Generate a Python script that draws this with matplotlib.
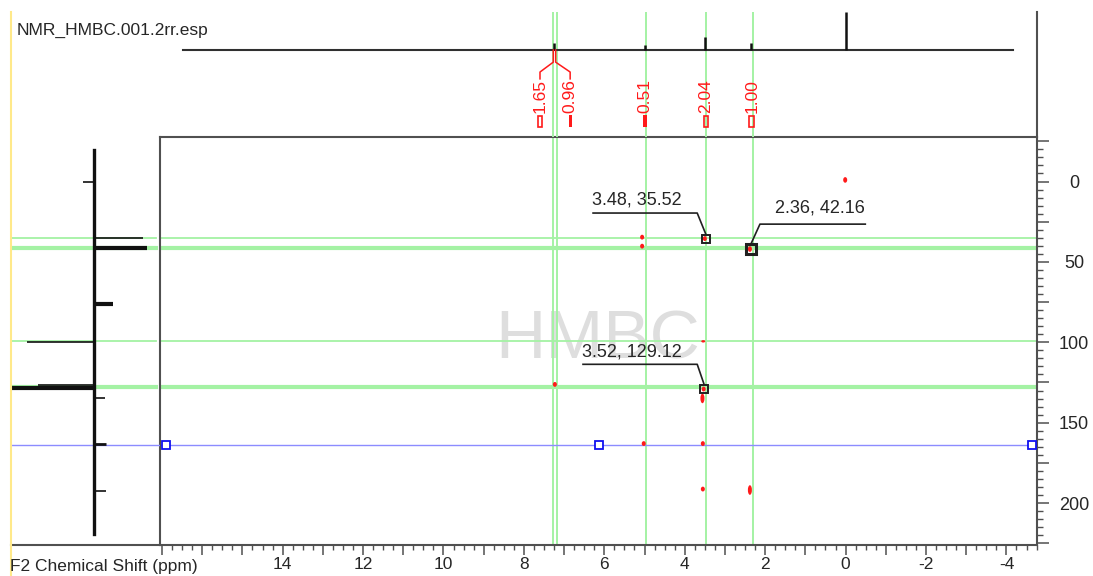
import matplotlib
matplotlib.use('Agg')
import matplotlib.pyplot as plt
from matplotlib.patches import Ellipse, Rectangle
from matplotlib.lines import Line2D
from matplotlib.ticker import MultipleLocator, FuncFormatter

plt.rcParams['font.family'] = ['Liberation Sans', 'DejaVu Sans']

W, H = 1093, 576

# --- 1H projection (top) ---
h_base = [16.48, -4.17]
h_peak_ppm = [7.26, 4.99, 3.49, 2.35, 0.0]
h_peak_int = [0.18, 0.13, 0.35, 0.18, 1.0]

# integrals
integ_ppm = [7.60, 6.85, 4.99, 3.47, 2.33]
integ_val = [1.65, 0.96, 0.51, 2.04, 1.00]
integ_solid = [False, True, True, False, False]

# --- 13C projection (left) ---
c_base = [-19.6, 219.0]
c_peak_ppm = [0.0, 35.2, 41.4, 76.3, 100.0, 126.8, 128.7, 134.9, 163.0, 192.2]
c_peak_int = [-11, 49, 53, 19, -67, -56, -83, 11, 12, 12]
c_peak_lw = [1.2, 1.2, 3.0, 3.0, 1.2, 1.2, 3.0, 1.2, 2.0, 1.2]

# --- HMBC cross peaks (F2, F1) ---
cp_f2 = [0.01, 5.06, 5.06, 3.50, 2.38, 7.23, 3.54, 3.56, 5.02, 3.55, 3.55, 2.38, 3.53]
cp_f1 = [-1.0, 34.6, 40.2, 35.5, 42.0, 126.2, 99.4, 134.9, 163.0, 163.0, 191.3, 191.9, 129.1]
cp_f1w = [3.5, 3.0, 3.0, 3.0, 3.5, 3.0, 1.5, 6.0, 3.0, 3.0, 3.0, 6.0, 3.0]

# cursors
green_f2 = [7.28, 7.18, 4.96, 3.47, 2.31]
green_f1 = [35.2, 41.4, 99.4, 128.0]
green_f1_lw = [1.3, 3.0, 1.3, 3.0]
blue_f1 = 164.2
blue_marks = [16.9, 6.13, -4.64]

# peak picks
pick_f2 = [3.48, 2.36, 3.52]
pick_f1 = [35.52, 42.16, 129.12]
pick_mew = [1.4, 2.2, 1.4]
pick_ms = [6.2, 7.0, 6.2]
# label placement: text left/centre, underline start/end/level
lab_f2 = [6.31, 1.75, 6.55]
lab_f1 = [11.5, 16.5, 106.2]
ul_a = [6.28, -0.49, 6.53]
ul_b = [3.69, 2.13, 3.69]
ul_y = [19.6, 26.5, 113.7]

GREEN = '#a4f2a4'
FRAME = '#505050'
RED = '#ff1a1a'
TXT = '#262626'

fig = plt.figure(figsize=(W / 100, H / 100), dpi=100)


def px_axes(x0, y0, x1, y1):
    return fig.add_axes([x0 / W, 1 - y1 / H, (x1 - x0) / W, (y1 - y0) / H])


def f2_label(v, p):
    n = int(round(v))
    return str(n) if n % 2 == 0 and n < 15 else ''


# main 2D area
ax = px_axes(160, 137, 1037, 545)
ax.set_xlim(17.05, -4.76)
ax.set_ylim(226.1, -27.7)
ax.set_facecolor('none')
for s in ax.spines.values():
    s.set_color(FRAME)
    s.set_linewidth(1.5)

ax.xaxis.set_major_locator(MultipleLocator(1))
ax.xaxis.set_minor_locator(MultipleLocator(0.25))
ax.xaxis.set_major_formatter(FuncFormatter(f2_label))
ax.tick_params(axis='x', which='major', direction='out', length=7.5, width=1.1,
               color=FRAME, labelsize=12.5, labelcolor=TXT, pad=1.0)
ax.tick_params(axis='x', which='minor', direction='out', length=3.6, width=1.0, color=FRAME)

ax.yaxis.tick_right()
ax.yaxis.set_major_locator(MultipleLocator(25))
ax.yaxis.set_minor_locator(MultipleLocator(5))
ax.yaxis.set_major_formatter(FuncFormatter(
    lambda v, p: str(int(round(v))) if int(round(v)) % 50 == 0 else ''))
ax.tick_params(axis='y', which='major', direction='out', length=8.6, width=1.1,
               color=FRAME, labelsize=13, labelcolor=TXT, pad=18)
ax.tick_params(axis='y', which='minor', direction='out', length=4.3, width=1.0, color=FRAME)
plt.setp(ax.get_yticklabels(), ha='center')

ax.text(6.16, 98.8, 'HMBC', fontsize=50, color='#dedede', ha='center', va='center', zorder=0)

for v in green_f2:
    ax.axvline(v, color=GREEN, lw=1.4, zorder=1)
for v, lw in zip(green_f1, green_f1_lw):
    ax.axhline(v, color=GREEN, lw=lw, zorder=1)
ax.axhline(blue_f1, color='#8c8cff', lw=1.0, zorder=1)
ax.plot(blue_marks, [blue_f1] * len(blue_marks), 's', mfc='white', mec='#1010f0',
        ms=6, mew=1.3, zorder=5)

for x, y, h in zip(cp_f2, cp_f1, cp_f1w):
    ax.add_patch(Ellipse((x, y), 0.1, h, color=RED, lw=0, zorder=3))

for i in range(len(pick_f2)):
    ax.plot(pick_f2[i], pick_f1[i], 's', mfc='none', mec='#202020', ms=pick_ms[i],
            mew=pick_mew[i], zorder=4)
    ax.plot([ul_a[i], ul_b[i], pick_f2[i]], [ul_y[i], ul_y[i], pick_f1[i] - 3.0],
            color='#202020', lw=1.2, zorder=4)
    ax.text(lab_f2[i], lab_f1[i], f'{pick_f2[i]:.2f}, {pick_f1[i]:.2f}',
            fontsize=13, color=TXT, ha='left', va='center', zorder=4)

# top 1D spectrum
ax_top = px_axes(160, 12, 1037, 137)
ax_top.set_xlim(17.05, -4.76)
ax_top.set_ylim(-2.29, 1.0)
ax_top.axis('off')
for v in green_f2:
    ax_top.axvline(v, color=GREEN, lw=1.4, zorder=1)
ax_top.plot(h_base, [0, 0], color='#303030', lw=1.5, zorder=2)
ax_top.vlines(h_peak_ppm, 0, h_peak_int, color='#111111', lw=1.8, zorder=3)

# integral labels
for x, val, solid in zip(integ_ppm, integ_val, integ_solid):
    ax_top.text(x, -1.21, f'{val:.2f}', rotation=90, fontsize=12.5, color=RED,
                ha='center', va='center', zorder=4)
    if solid:
        ax_top.add_patch(Rectangle((x - 0.04, -2.03), 0.08, 0.32, color=RED, lw=0, zorder=4))
    else:
        ax_top.add_patch(Rectangle((x - 0.06, -2.03), 0.12, 0.30, fill=False,
                                   ec=RED, lw=1.2, zorder=4))
# split leader for the two overlapping integrals near 7.2 ppm
for dx, end in [(0.03, integ_ppm[0]), (-0.03, integ_ppm[1])]:
    ax_top.plot([7.24 + dx, 7.24 + dx, end, end], [0, -0.32, -0.58, -0.76],
                color=RED, lw=1.1, zorder=4)

# left 1D projection
ax_left = px_axes(11, 137, 160, 545)
ax_left.set_ylim(226.1, -27.7)
ax_left.set_xlim(-83, 66)
ax_left.axis('off')
for v, lw in zip(green_f1, green_f1_lw):
    ax_left.axhline(v, xmax=0.97, color=GREEN, lw=lw, zorder=1)
ax_left.axhline(blue_f1, color='#8c8cff', lw=1.0, zorder=1)
ax_left.plot([0, 0], c_base, color='#111111', lw=2.4, zorder=2)
for y, v, lw in zip(c_peak_ppm, c_peak_int, c_peak_lw):
    ax_left.plot([0, v], [y, y], color='#111111', lw=lw, zorder=3, solid_capstyle='butt')

# frame extensions and page border
fig.add_artist(Line2D([11 / W, 160 / W], [1 - 545 / H] * 2, color=FRAME, lw=1.5))
fig.add_artist(Line2D([1037 / W] * 2, [1 - 12 / H, 1 - 137 / H], color=FRAME, lw=1.5))
fig.add_artist(Line2D([11 / W] * 2, [1 - 12 / H, 0], color='#ffe98a', lw=1.5))

fig.text(17 / W, 1 - 30 / H, 'NMR_HMBC.001.2rr.esp', fontsize=12.5, color=TXT, va='center')
fig.text(10 / W, 1 - 566 / H, 'F2 Chemical Shift (ppm)', fontsize=12.5, color=TXT, va='center')

fig.savefig('out.png', dpi=100)
